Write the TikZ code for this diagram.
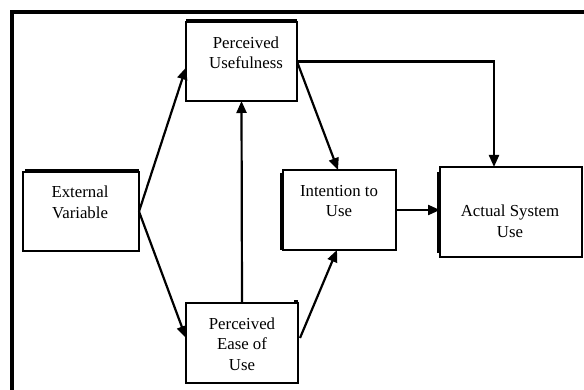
\documentclass[tikz,border=0pt]{standalone}
\usepackage{fontspec}
\setmainfont{Liberation Serif}
\usetikzlibrary{arrows.meta,calc}
\begin{document}
\begin{tikzpicture}[x=1pt,y=-1pt,
  box/.style={draw=black,line width=2.5pt,minimum width=#1,inner sep=0pt,outer sep=0pt},
  lbl/.style={align=center,inner sep=0pt,font=\fontsize{16.8}{20.5}\selectfont},
  conn/.style={line width=2.2pt,-{Triangle[length=12pt,width=10pt]}},
  extra/.style={line width=2.5pt}]
\useasboundingbox (0,0) rectangle (584,390);
\fill[white] (0,0) rectangle (584,390);
\draw[line width=4pt] (12,400) -- (12,12) -- (600,12);
% boxes
\node[box=111pt,minimum height=79pt] (PU) at (241.5,61.5) {};
\node[box=116pt,minimum height=79pt] (EV) at (81,211.5) {};
\node[box=112pt,minimum height=80pt] (PEU) at (242,343) {};
\node[box=113pt,minimum height=80pt] (ITU) at (339.5,210) {};
\node[box=142pt,minimum height=90pt] (ASU) at (511,212) {};
% doubled edges
\draw[extra] ($(PU.north west)+(0,-2.2)$) -- ($(PU.north east)+(0,-2.2)$);
\draw[extra] ($(EV.north west)+(2,-2.2)$) -- ($(EV.north east)+(0,-2.2)$);
\draw[extra] ($(ITU.north west)+(-2.2,3)$) -- ($(ITU.south west)+(-2.2,0)$);
\draw[extra] ($(ASU.north west)+(-2.2,5)$) -- ($(ASU.south west)+(-2.2,-4)$);
\draw[extra] ($(PEU.north east)+(-4,-2)$) -- ($(PEU.north east)+(0,-2)$);
% labels
\node[lbl] (tPU) at (246,53) {Perceived\\Usefulness};
\node[lbl] (tEV) at (80,202.5) {External\\Variable};
\node[lbl] (tPEU) at (242,344) {Perceived\\Ease of\\Use};
\node[lbl] (tITU) at (339,201) {Intention to\\Use};
\node[lbl] (tASU) at (510,221.5) {Actual System\\Use};
% connectors
\draw[conn] (EV.east) -- ($(PU.west)+(0,6)$);
\draw[conn] (EV.east) -- ($(PEU.west)+(0,-5)$);
\draw[conn] (PEU.north) -- (PU.south);
\draw[conn] (PU.east) -- ($(ITU.north)+(-1.5,0)$);
\draw[conn] (PU.east) -| ($(ASU.north)+(-17,0)$);
\draw[conn] ($(PEU.east)+(2,-5)$) -- ($(ITU.south)+(-2.5,0)$);
\draw[conn] (ITU.east) -- (ITU.east -| ASU.west);
\end{tikzpicture}
\end{document}
